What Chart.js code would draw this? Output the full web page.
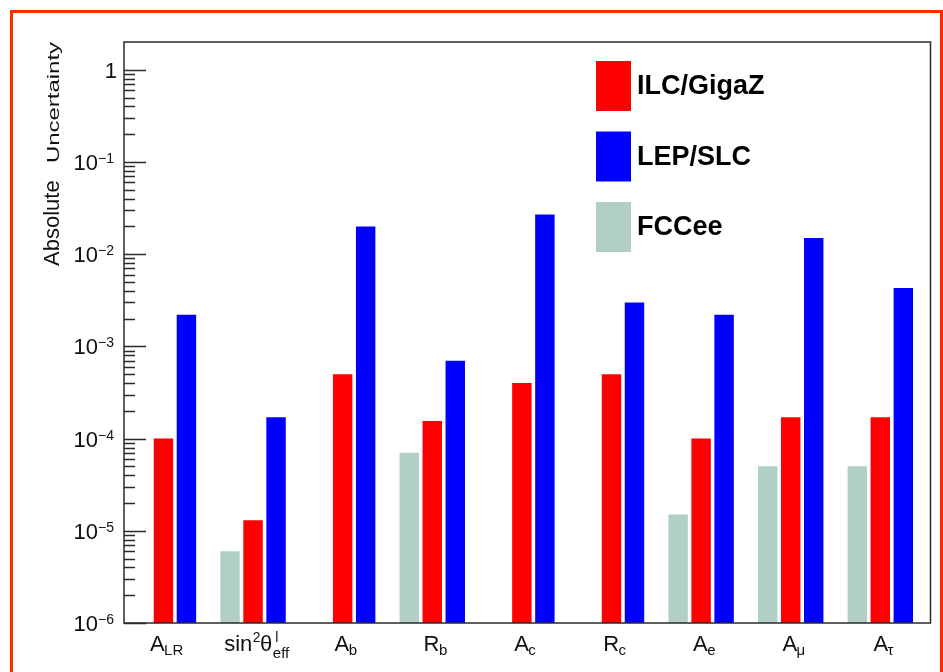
<!DOCTYPE html>
<html><head><meta charset="utf-8">
<script src="https://cdn.jsdelivr.net/npm/chart.js@4.4.1/dist/chart.umd.min.js"></script>
<style>
html,body{margin:0;padding:0;background:#fff;}
#wrap{position:relative;width:943px;height:672px;overflow:hidden;}
#frame{position:absolute;left:10px;top:10px;width:933px;height:700px;border:3px solid #ff2a00;box-sizing:border-box;pointer-events:none;}
canvas{position:absolute;left:0;top:0;}
</style></head><body>
<div id="wrap"><canvas id="c" width="943" height="672"></canvas><div id="frame"></div></div>
<script>
// ---- data ----
const categories = ['A_LR', 'sin2theta_eff', 'A_b', 'R_b', 'A_c', 'R_c', 'A_e', 'A_mu', 'A_tau'];
const categoryLabels = [
  [['A','n'],['LR','sub']],
  [['sin','n'],['2','sup'],['θ','n'],['l|eff','supsub']],
  [['A','n'],['b','sub']],
  [['R','n'],['b','sub']],
  [['A','n'],['c','sub']],
  [['R','n'],['c','sub']],
  [['A','n'],['e','sub']],
  [['A','n'],['μ','sub']],
  [['A','n'],['τ','sub']]
];
const fccee = [null, 6e-6, null, 7e-5, null, null, 1.5e-5, 5e-5, 5e-5];
const ilc   = [1e-4, 1.3e-5, 5e-4, 1.55e-4, 4e-4, 5e-4, 1e-4, 1.7e-4, 1.7e-4];
const lep   = [2.2e-3, 1.7e-4, 2e-2, 7e-4, 2.7e-2, 3e-3, 2.2e-3, 1.5e-2, 4.3e-3];
const yTickValues = [1, 1e-1, 1e-2, 1e-3, 1e-4, 1e-5, 1e-6];
const yTickLabels = [['1',''],['10','−1'],['10','−2'],['10','−3'],['10','−4'],['10','−5'],['10','−6']];
const legendOrder = ['ILC/GigaZ', 'LEP/SLC', 'FCCee'];
const yTitleMain = 'Absolute';
const yTitleSmall = 'Uncertainty';

const COLORS = {'FCCee':'#b1cfc7', 'ILC/GigaZ':'#ff0000', 'LEP/SLC':'#0000ff'};
const FONT = '"Liberation Sans", Arial, Helvetica, sans-serif';

function pts(arr){ return arr.map((v,i)=>({x:i, y:v})); }

function drawSegs(ctx, segs, cx, base){
  const MAIN = 22, SUB = 15, SUP = 14;
  const items = [];
  let w = 0;
  for (const [t, kind] of segs){
    if (kind === 'n'){ ctx.font = MAIN+'px '+FONT; const m = ctx.measureText(t).width; items.push([t,kind,m]); w += m; }
    else if (kind === 'sub'){ ctx.font = SUB+'px '+FONT; const m = ctx.measureText(t).width; items.push([t,kind,m]); w += m; }
    else if (kind === 'sup'){ ctx.font = SUP+'px '+FONT; const m = ctx.measureText(t).width; items.push([t,kind,m]); w += m; }
    else { const [a,b] = t.split('|'); ctx.font = SUP+'px '+FONT; const ma = ctx.measureText(a).width; ctx.font = SUB+'px '+FONT; const mb = ctx.measureText(b).width; const m = Math.max(ma,mb); items.push([t,kind,m]); w += m; }
  }
  let x = cx - w/2;
  ctx.textAlign = 'left'; ctx.textBaseline = 'alphabetic';
  for (const [t, kind, m] of items){
    if (kind === 'n'){ ctx.font = MAIN+'px '+FONT; ctx.fillText(t, x, base); }
    else if (kind === 'sub'){ ctx.font = SUB+'px '+FONT; ctx.fillText(t, x - 0.5, base+4); }
    else if (kind === 'sup'){ ctx.font = SUP+'px '+FONT; ctx.fillText(t, x+0.5, base-9); }
    else { const [a,b] = t.split('|'); ctx.font = SUP+'px '+FONT; ctx.fillText(a, x+3, base-9); ctx.font = SUB+'px '+FONT; ctx.fillText(b, x+0.5, base+7); }
    x += m;
  }
}

const decor = {
  id: 'decor',
  afterDraw(chart){
    const ctx = chart.ctx, a = chart.chartArea, ys = chart.scales.y;
    ctx.save();
    // frame
    ctx.strokeStyle = '#2a2a2a'; ctx.lineWidth = 1.5;
    ctx.strokeRect(a.left, a.top, a.right - a.left, a.bottom - a.top);
    // y ticks (inward)
    ctx.beginPath();
    for (let e = -6; e <= 0; e++){
      for (let m = 1; m <= 9; m++){
        const v = m * Math.pow(10, e);
        if (v < ys.min * 0.999 || v > ys.max * 0.999) continue;
        const py = Math.round(ys.getPixelForValue(v)) + 0.5;
        const len = m === 1 ? 22 : 11;
        ctx.moveTo(a.left, py); ctx.lineTo(a.left + len, py);
      }
    }
    ctx.stroke();
    // y tick labels
    ctx.fillStyle = '#111';
    ctx.textBaseline = 'alphabetic';
    yTickValues.forEach((v, i) => {
      const py = ys.getPixelForValue(v);
      const [b, s] = yTickLabels[i];
      if (!s){
        ctx.font = '22px ' + FONT; ctx.textAlign = 'right';
        ctx.fillText(b, 117, py + 8);
      } else {
        ctx.font = '14px ' + FONT; ctx.textAlign = 'right';
        const sw = ctx.measureText(s).width;
        ctx.fillText(s, 114, py + 1);
        ctx.font = '22px ' + FONT;
        ctx.fillText(b, 114 - sw, py + 8);
      }
    });
    // x labels
    const bw = (a.right - a.left) / categories.length;
    categoryLabels.forEach((segs, i) => {
      drawSegs(ctx, segs, a.left + (i + 0.5) * bw - 2, 651);
    });
    // y title
    ctx.save();
    ctx.translate(59, 266);
    ctx.rotate(-Math.PI/2);
    ctx.textAlign = 'left';
    ctx.font = '22px ' + FONT;
    ctx.fillText(yTitleMain, 0, 0);
    ctx.font = '16px ' + FONT;
    const uw = ctx.measureText(yTitleSmall).width;
    ctx.translate(103, 0);
    ctx.scale(121 / uw, 1);
    ctx.fillText(yTitleSmall, 0, 0);
    ctx.restore();
    // legend
    legendOrder.forEach((name, i) => {
      const top = 61 + i * 70.5;
      ctx.fillStyle = COLORS[name];
      ctx.fillRect(596, top, 35, 50);
      ctx.fillStyle = '#000';
      ctx.font = 'bold 27px ' + FONT;
      ctx.textAlign = 'left';
      ctx.fillText(name, 637, top + 33);
    });
    ctx.restore();
  }
};

new Chart(document.getElementById('c'), {
  type: 'bar',
  data: {
    datasets: [
      {label: 'FCCee', data: pts(fccee), backgroundColor: COLORS['FCCee'], borderWidth: 0},
      {label: 'ILC/GigaZ', data: pts(ilc), backgroundColor: COLORS['ILC/GigaZ'], borderWidth: 0},
      {label: 'LEP/SLC', data: pts(lep), backgroundColor: COLORS['LEP/SLC'], borderWidth: 0}
    ]
  },
  options: {
    responsive: false,
    animation: false,
    layout: {padding: {left: 124, right: 12.5, top: 42, bottom: 49}},
    datasets: {bar: {categoryPercentage: 0.77, barPercentage: 0.845}},
    plugins: {legend: {display: false}, tooltip: {enabled: false}},
    scales: {
      x: {type: 'linear', min: -0.44, max: 8.56, offset: false, display: false,
          grid: {offset: false},
          afterBuildTicks: s => { s.ticks = categories.map((_, i) => ({value: i})); }},
      y: {type: 'logarithmic', min: 1e-6, max: 2, display: false}
    }
  },
  plugins: [decor]
});
</script>
</body></html>
